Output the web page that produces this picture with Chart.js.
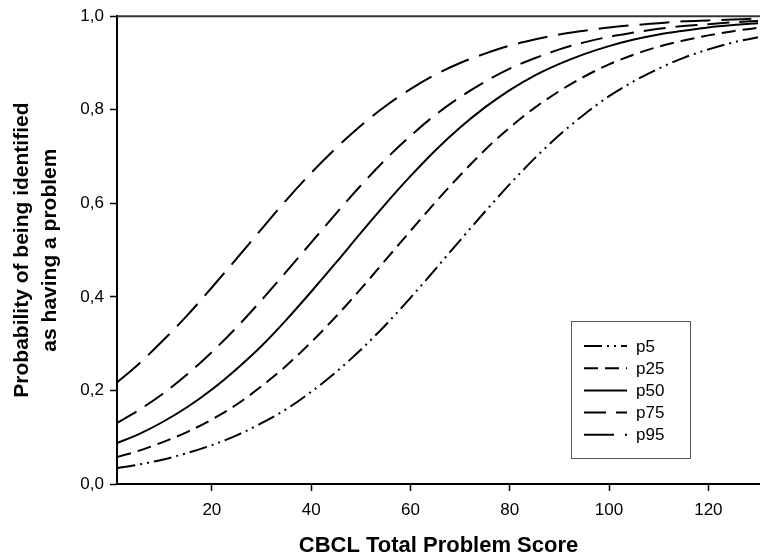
<!DOCTYPE html>
<html><head><meta charset="utf-8">
<script src="https://cdn.jsdelivr.net/npm/chart.js@4/dist/chart.umd.min.js"></script>
<style>html,body{margin:0;padding:0;background:#fff;}canvas{display:block;}</style>
</head><body>
<canvas id="c" width="760" height="560"></canvas>
<script>
// ---- data ----
const scores = [1,5,10,15,20,25,30,35,40,45,50,55,60,65,70,75,80,85,90,95,100,105,110,115,120,125,130];
const p5  = [0.034,0.041,0.052,0.066,0.083,0.104,0.130,0.160,0.197,0.239,0.287,0.340,0.398,0.459,0.521,0.582,0.641,0.696,0.746,0.790,0.829,0.861,0.888,0.911,0.929,0.944,0.955];
const p25 = [0.058,0.070,0.089,0.111,0.138,0.170,0.209,0.253,0.303,0.358,0.417,0.479,0.541,0.602,0.660,0.714,0.762,0.804,0.840,0.871,0.897,0.918,0.935,0.948,0.959,0.968,0.975];
const p50 = [0.088,0.105,0.132,0.164,0.202,0.246,0.295,0.351,0.411,0.473,0.537,0.599,0.658,0.713,0.762,0.805,0.842,0.873,0.898,0.919,0.936,0.950,0.961,0.969,0.976,0.981,0.985];
const p75 = [0.131,0.156,0.192,0.234,0.282,0.335,0.393,0.454,0.516,0.578,0.638,0.694,0.744,0.789,0.827,0.860,0.888,0.910,0.929,0.944,0.956,0.965,0.973,0.979,0.983,0.987,0.990];
const p95 = [0.218,0.254,0.305,0.360,0.420,0.482,0.545,0.607,0.665,0.718,0.766,0.808,0.844,0.875,0.900,0.920,0.937,0.950,0.961,0.969,0.976,0.981,0.985,0.989,0.991,0.993,0.995];
const seriesNames = ['p5','p25','p50','p75','p95'];
const xTickValues = [20,40,60,80,100,120];
const yTickLabels = ['0,0','0,2','0,4','0,6','0,8','1,0'];
const xAxisTitle = 'CBCL Total Problem Score';
const yAxisTitle = ['Probability of being identified','as having a problem'];

// ---- styles ----
const seriesValues = [p5, p25, p50, p75, p95];
const dashes = [[18,5,2,5,2,5],[14,7],[],[22,10],[30,11]];
const FONT = "'Liberation Sans', Arial, sans-serif";

const datasets = seriesNames.map((name, k) => ({
  label: name,
  data: scores.map((x, i) => ({x: x, y: seriesValues[k][i]})),
  borderColor: '#000',
  borderWidth: 2,
  borderDash: dashes[k],
  pointRadius: 0,
  fill: false,
  cubicInterpolationMode: 'monotone'
}));

const framePlugin = {
  id: 'frame',
  afterDraw(chart) {
    const {ctx, chartArea: a} = chart;
    ctx.save();
    ctx.strokeStyle = '#333';
    ctx.lineWidth = 2;
    ctx.beginPath();
    ctx.moveTo(a.left, a.top);
    ctx.lineTo(a.right, a.top);
    ctx.stroke();
    ctx.restore();
  }
};

const boxLegend = {
  id: 'boxLegend',
  afterDraw(chart) {
    const ctx = chart.ctx;
    const bx = 571, by = 321, bw = 119, bh = 137;
    ctx.save();
    ctx.strokeStyle = '#555';
    ctx.lineWidth = 1;
    ctx.strokeRect(bx + 0.5, by + 0.5, bw, bh);
    ctx.font = '17px ' + FONT;
    ctx.fillStyle = '#000';
    ctx.textBaseline = 'middle';
    chart.data.datasets.forEach((ds, i) => {
      const y = 346 + i * 22.2;
      ctx.strokeStyle = '#000';
      ctx.lineWidth = 2;
      ctx.setLineDash(ds.borderDash || []);
      ctx.beginPath();
      ctx.moveTo(584, y);
      ctx.lineTo(627, y);
      ctx.stroke();
      ctx.setLineDash([]);
      ctx.fillText(ds.label, 636, y + 1);
    });
    ctx.restore();
  }
};

new Chart(document.getElementById('c'), {
  type: 'line',
  data: { datasets },
  plugins: [framePlugin, boxLegend],
  options: {
    responsive: false,
    animation: false,
    devicePixelRatio: 1,
    layout: { padding: { top: 16, right: 0, left: 0, bottom: 0 } },
    plugins: { legend: { display: false }, tooltip: { enabled: false } },
    scales: {
      x: {
        type: 'linear',
        min: 0.9, max: 130.4,
        afterFit(s) { s.height = 76; },
        afterBuildTicks(s) { s.ticks = xTickValues.map(v => ({value: v})); },
        grid: { display: true, drawOnChartArea: false, tickLength: 7, tickColor: '#000', tickWidth: 1.5 },
        border: { display: true, color: '#000', width: 2 },
        ticks: { color: '#000', font: { family: FONT, size: 17 }, padding: 9, maxRotation: 0 },
        title: { display: true, text: xAxisTitle, color: '#000', font: { family: FONT, size: 22, weight: 'bold' }, padding: { top: 0, bottom: 1 } }
      },
      y: {
        min: 0, max: 1,
        afterFit(s) { s.width = 117; },
        ticks: { stepSize: 0.2, color: '#000', font: { family: FONT, size: 17 }, padding: 6,
          callback: (v, i) => yTickLabels[i] },
        grid: { display: true, drawOnChartArea: false, tickLength: 7, tickColor: '#000', tickWidth: 1.5 },
        border: { display: true, color: '#000', width: 2 },
        title: { display: true, text: yAxisTitle, color: '#000', font: { family: FONT, size: 21, weight: 'bold', lineHeight: 1.3 }, padding: { top: 9, bottom: 0 } }
      }
    }
  }
});
</script>
</body></html>
